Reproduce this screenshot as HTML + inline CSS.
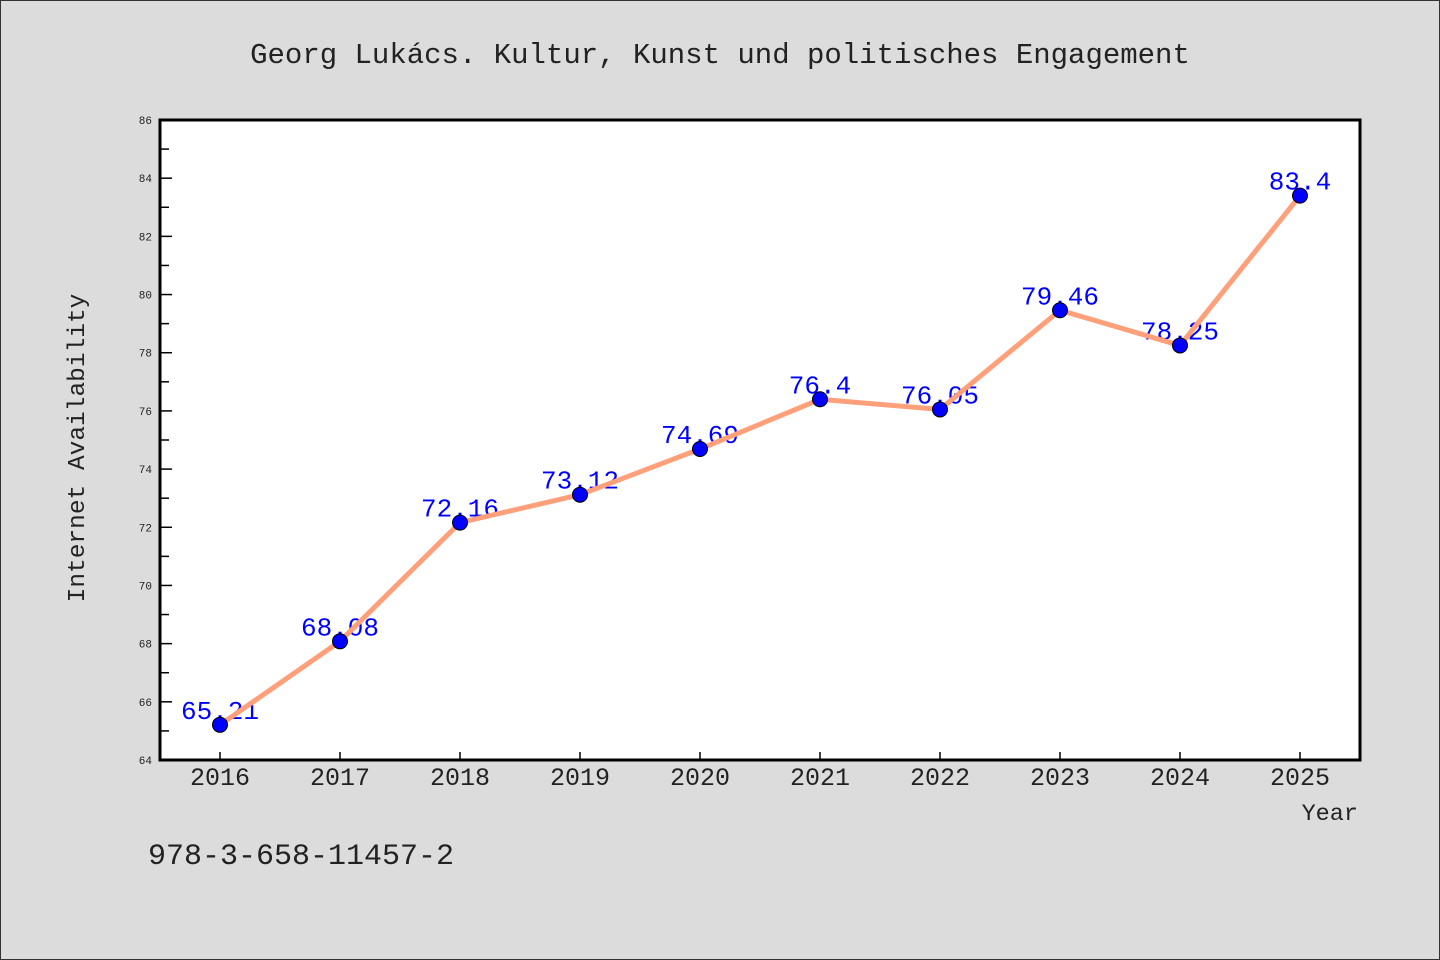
<!DOCTYPE html>
<html><head><meta charset="utf-8"><style>
body{margin:0;background:#dcdcdc;}
svg{display:block;font-family:"WenQuanYi Zen Hei Mono","Liberation Mono","DejaVu Sans Mono",monospace;}
</style></head><body>
<svg id="chart" width="1440" height="960" xmlns="http://www.w3.org/2000/svg">
<rect x="0.5" y="0.5" width="1439" height="959" fill="#dcdcdc" stroke="#333"/>
<text x="720" y="63" text-anchor="middle" font-size="29" fill="#222">Georg Lukács. Kultur, Kunst und politisches Engagement</text>
<rect x="160" y="120" width="1200" height="640" fill="#fff"/>
<g id="axes"></g>
<g id="labels"></g>
<g id="series"></g>
<rect x="160" y="120" width="1200" height="640" fill="none" stroke="#000" stroke-width="3"/>
<text x="84" y="448" text-anchor="middle" font-size="24.5" fill="#222" transform="rotate(-90 84 448)">Internet Availability</text>
<text x="1358" y="820" text-anchor="end" font-size="23.5" fill="#222">Year</text>
<text x="148" y="864" font-size="30" fill="#222">978-3-658-11457-2</text>
</svg>
<script>
const years=[2016,2017,2018,2019,2020,2021,2022,2023,2024,2025];
const values=[65.21,68.08,72.16,73.12,74.69,76.4,76.05,79.46,78.25,83.4];
const valueLabels=["65.21","68.08","72.16","73.12","74.69","76.4","76.05","79.46","78.25","83.4"];
const yTicks=[64,66,68,70,72,74,76,78,80,82,84,86];
const NS="http://www.w3.org/2000/svg";
const x=i=>220+i*120;
const y=v=>760-(v-64)*(640/22);
function mk(tag,attrs,parent){const e=document.createElementNS(NS,tag);for(const k in attrs)e.setAttribute(k,attrs[k]);parent.appendChild(e);return e;}
const axes=document.getElementById('axes'),labels=document.getElementById('labels'),series=document.getElementById('series');
yTicks.forEach((t,i)=>{
  const l=mk('line',{x1:160,x2:172,y1:y(t),y2:y(t),stroke:'#000','stroke-width':1.5},axes);
  
  
  const tx=mk('text',{x:152,y:y(t)+4,'text-anchor':'end','font-size':11,fill:'#222'},axes);
  tx.textContent=t;
  
  
  if(i<yTicks.length-1){
    const m=mk('line',{x1:160,x2:169,y1:y(t+1),y2:y(t+1),stroke:'#000','stroke-width':1.5},axes);
    
    
  }
});
years.forEach((yr,i)=>{
  const l=mk('line',{x1:x(i),x2:x(i),y1:760,y2:752,stroke:'#000','stroke-width':1.5},axes);
  
  
  const tx=mk('text',{x:x(i),y:785,'text-anchor':'middle','font-size':25,fill:'#222'},axes);
  tx.textContent=yr;
  
  
  const vl=mk('text',{x:x(i),y:y(values[i])-6,'text-anchor':'middle','font-size':26,fill:'#0000ff'},labels);
  vl.textContent=valueLabels[i];
  
  
});
const pl=mk('polyline',{points:values.map((v,i)=>x(i)+','+y(v)).join(' '),fill:'none',stroke:'#ffa07a','stroke-width':5},series);


values.forEach((v,i)=>{
  const c=mk('circle',{cx:x(i),cy:y(v),r:7.5,fill:'#0000ff',stroke:'#000','stroke-width':1},series);
  
  
});
</script>
</body></html>
